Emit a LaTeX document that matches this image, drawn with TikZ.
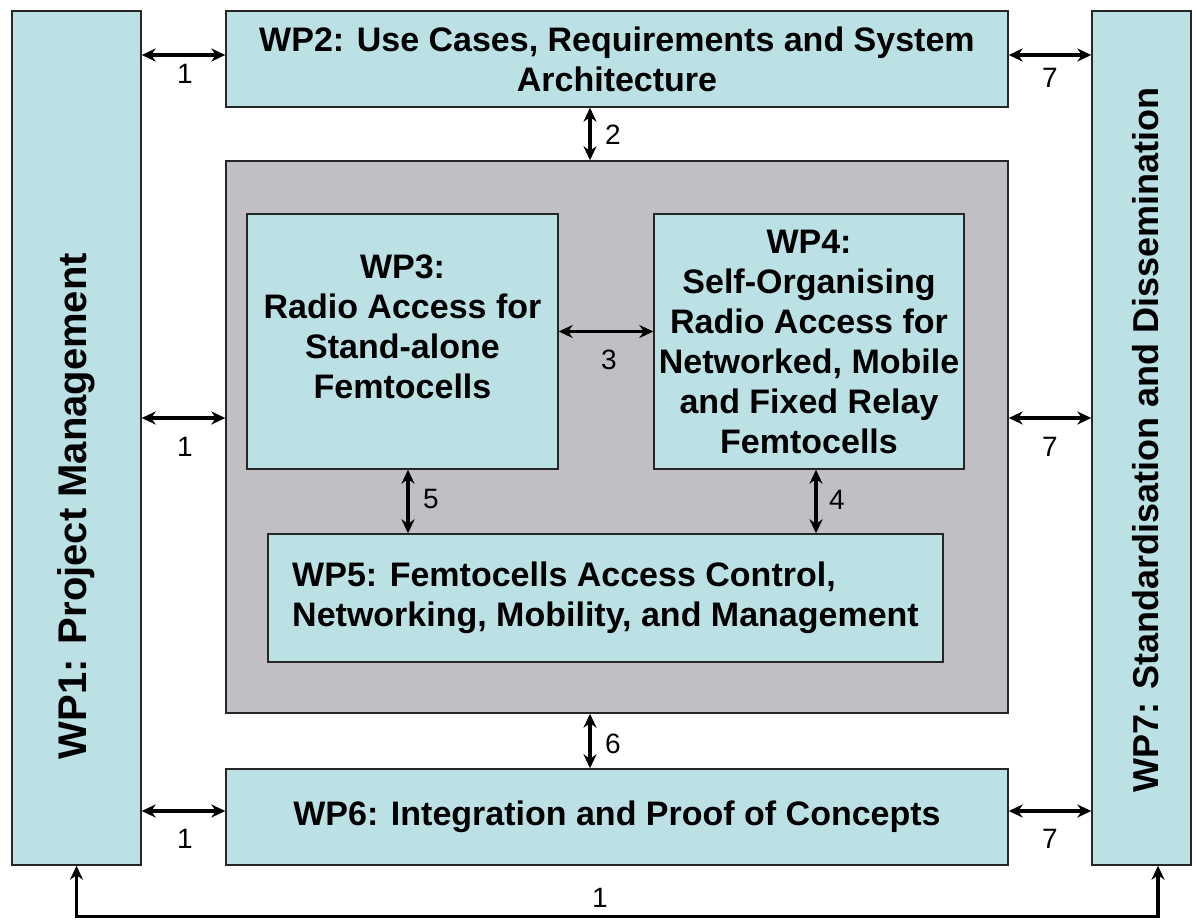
\documentclass[tikz,border=0pt]{standalone}
\usepackage{fontspec}
\setmainfont{Liberation Sans}
\usetikzlibrary{arrows.meta}

\definecolor{wpcyan}{RGB}{188,225,229}
\definecolor{wpgrey}{RGB}{193,191,196}

\begin{document}
\begin{tikzpicture}[x=1pt,y=-1pt,
  wp/.style={draw=black!85,line width=1.4pt,fill=wpcyan,inner sep=0pt,align=center,
    font=\fontsize{34}{40}\selectfont\bfseries},
  side/.style={font=\fontsize{36}{40}\selectfont\bfseries,inner sep=0pt},
  link/.style={line width=3.2pt,{Stealth[length=14pt,width=13pt]}-{Stealth[length=14pt,width=13pt]}},
  num/.style={font=\fontsize{28}{32}\selectfont,inner sep=0pt}]
  \useasboundingbox (0,0) rectangle (1196,919);

  \node[wp,minimum width=129,minimum height=854] (1) at (76.5,438) {};
  \node[wp,minimum width=99,minimum height=854] (7) at (1141.5,438) {};
  \node[side,font=\fontsize{40}{44}\selectfont\bfseries] (t1) at (76.5,506) {\rotatebox{90}{WP1: Project Management}};
  \node[side] (t7) at (1146,440) {\rotatebox{90}{WP7: Standardisation and Dissemination}};

  \node[wp,minimum width=782,minimum height=96] (2) at (617,59) {WP2: Use Cases, Requirements and System\\Architecture};
  \node[draw=black!85,line width=1.4pt,fill=wpgrey,minimum width=782,minimum height=552,inner sep=0pt] (0) at (617,437) {};
  \node[wp,minimum width=311,minimum height=255] (3) at (402.5,341.5) {WP3:\\Radio Access for\\Stand-alone\\Femtocells\\[-10pt]\mbox{}};
  \node[wp,minimum width=310,minimum height=255] (4) at (809,341.5) {WP4:\\Self-Organising\\Radio Access for\\Networked, Mobile\\and Fixed Relay\\Femtocells};
  \node[wp,minimum width=675,minimum height=128,align=left] (5) at (605.5,598) {WP5: Femtocells Access Control,\\Networking, Mobility, and Management};
  \node[wp,minimum width=782,minimum height=96] (6) at (617,817) {WP6: Integration and Proof of Concepts};

  \draw[link] ([yshift=4pt]1.east |- 2.west) -- ([yshift=4pt]2.west);
  \draw[link] ([yshift=20pt]1.east) -- ([yshift=20pt]1.east -| 0.west);
  \draw[link] ([yshift=6pt]1.east |- 6.west) -- ([yshift=6pt]6.west);
  \draw[link] ([yshift=4pt]2.east) -- ([yshift=4pt]7.west |- 2.east);
  \draw[link] ([yshift=20pt]7.west -| 0.east) -- ([yshift=20pt]7.west);
  \draw[link] ([yshift=6pt]6.east) -- ([yshift=6pt]7.west |- 6.east);

  \draw[link] (2.south -| 590,0) -- (0.north -| 590,0);
  \draw[link] (0.south -| 590,0) -- (6.north -| 590,0);
  \draw[link] ([yshift=10pt]3.east) -- ([yshift=10pt]4.west);
  \draw[link] (3.south -| 408,0) -- (5.north -| 408,0);
  \draw[link] (4.south -| 816,0) -- (5.north -| 816,0);

  \draw[link] ([xshift=16.5pt]7.south) -- ++(0,51) -| (1.south);

  \node[num] (n12) at (185,74) {1};
  \node[num] (n10) at (185,447) {1};
  \node[num] (n16) at (185,839) {1};
  \node[num] (n27) at (1050,78) {7};
  \node[num] (n07) at (1050,447) {7};
  \node[num] (n67) at (1050,839) {7};
  \node[num] (n20) at (613,135) {2};
  \node[num] (n34) at (609,360) {3};
  \node[num] (n35) at (431,499) {5};
  \node[num] (n45) at (837,500) {4};
  \node[num] (n06) at (613,744) {6};
  \node[num] (n17) at (600,898) {1};
\end{tikzpicture}
\end{document}
